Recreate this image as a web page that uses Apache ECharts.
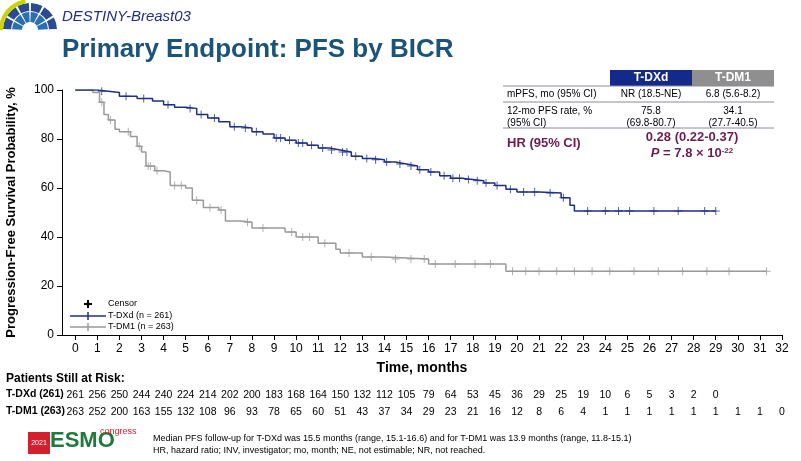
<!DOCTYPE html><html><head><meta charset="utf-8">
<script src="https://cdn.jsdelivr.net/npm/echarts@6/dist/echarts.min.js"></script>
<style>html,body{margin:0;background:#fff}#c{width:801px;height:461px}</style></head><body><div id="c"></div>
<script>
const xTicks=[0,1,2,3,4,5,6,7,8,9,10,11,12,13,14,15,16,17,18,19,20,21,22,23,24,25,26,27,28,29,30,31,32];
const dxdSteps=[[0,100],[1.0,99.5],[1.5,99],[2,97.5],[2.8,96.5],[3.5,95.5],[4,94],[4.5,93],[5,92.5],[5.5,90],[6,88.6],[6.5,87],[7,85],[7.5,84.5],[8,83],[8.5,82],[9,80.4],[9.5,79.5],[10,78.4],[10.5,77.5],[11,76.3],[11.5,75.5],[12,74.7],[12.5,73],[13,72],[13.5,71.5],[14,70.6],[14.5,69.8],[15,69],[15.5,67.5],[16,66.5],[16.5,65],[17,64],[17.5,63.5],[18,63],[18.5,62],[19,61],[19.5,59.5],[20,58.4],[21,58],[22,56],[22.4,53],[22.6,50.6],[29,50.6]];
const dm1Steps=[[0,100],[0.8,99],[1.1,95],[1.3,90],[1.5,87.8],[1.8,84],[2,83],[2.5,81],[2.8,77],[3,74.7],[3.2,69],[3.6,67],[4,66.5],[4.3,61],[5,60],[5.3,55],[5.8,52],[6.5,51],[6.8,46.5],[7.5,46],[8,43.7],[9.5,42],[10,40],[11,37.5],[11.8,35],[12,33.5],[13,31.8],[14,31],[16,29],[19.5,26],[31.3,26]];
const dxdCensor=[1.2,2.3,3.1,4.2,5.2,5.7,6.3,7.2,7.7,8.2,9.1,9.3,9.7,10.1,10.3,10.7,11.2,11.6,12.1,12.3,12.7,13.2,13.6,14.1,14.7,15.2,15.6,16.1,16.7,17.1,17.4,17.8,18.2,18.6,19.1,19.7,20.3,20.8,21.5,22.1,23.2,24,24.6,25.1,26.2,27.3,28.5,29];
const dm1Censor=[1.2,1.6,2.4,2.9,3.3,3.4,3.7,4.5,4.8,5.5,6.1,6.6,7.8,8.5,9.8,10.3,10.6,11.3,12.4,13.4,14.5,15.2,15.8,16.3,17.2,18.1,18.8,19.8,20.4,21,21.8,22.6,23.4,24.2,25.3,26.4,27.5,28.6,29.6,31.3];
const riskDxd=[261,256,250,244,240,224,214,202,200,183,168,164,150,132,112,105,79,64,53,45,36,29,25,19,10,6,5,3,2,0];
const riskDm1=[263,252,200,163,155,132,108,96,93,78,65,60,51,43,37,34,29,23,21,16,12,8,6,4,1,1,1,1,1,1,1,1,0];
const NAVY='#1f2f86',GRAY='#9a9a9a';
function stepLine(s){const o=[];for(let i=0;i<s.length;i++){if(i>0)o.push([s[i][0],s[i-1][1]]);o.push(s[i]);}return o;}
function at(s,t){let v=s[0][1];for(const p of s){if(p[0]<=t)v=p[1];}return v;}
const plus='path://M-0.12,-1H0.12V-0.12H1V0.12H0.12V1H-0.12V0.12H-1V-0.12H-0.12Z';
const ch=echarts.init(document.getElementById('c'));
const opt={animation:false,
grid:{left:62,right:19,top:90,bottom:126,outerBoundsMode:'none',containLabel:false},
xAxis:{type:'value',min:-0.6,max:32,axisLine:{onZero:false,lineStyle:{color:'#000'}},axisTick:{customValues:xTicks,lineStyle:{color:'#000'}},splitLine:{show:false},
 axisLabel:{customValues:xTicks,color:'#000',fontSize:12,fontFamily:'Liberation Sans'},name:'Time, months',nameLocation:'middle',nameGap:26,nameTextStyle:{fontWeight:'bold',fontSize:14,color:'#000',fontFamily:'Liberation Sans'}},
yAxis:{type:'value',min:0,max:100,interval:20,axisLine:{show:true,onZero:false,lineStyle:{color:'#000'}},axisTick:{show:true},splitLine:{show:false},
 axisLabel:{color:'#000',fontSize:12,fontFamily:'Liberation Sans'},name:'Progression-Free Survival Probability, %',nameLocation:'middle',nameGap:44,nameTextStyle:{fontWeight:'bold',fontSize:13,color:'#000',fontFamily:'Liberation Sans'}},
series:[
{type:'line',data:stepLine(dm1Steps),showSymbol:false,lineStyle:{color:GRAY,width:1.5}},
{type:'line',data:stepLine(dxdSteps),showSymbol:false,lineStyle:{color:NAVY,width:1.5}},
{type:'scatter',data:dm1Censor.map(t=>[t,at(dm1Steps,t)]),symbol:plus,symbolSize:8,itemStyle:{color:GRAY}},
{type:'scatter',data:dxdCensor.map(t=>[t,at(dxdSteps,t)]),symbol:plus,symbolSize:8,itemStyle:{color:NAVY}}
]};
ch.setOption(opt);
const F='Liberation Sans';
const g=[];
function T(x,y,text,font,fill,extra){const st=Object.assign({text:text,font:font,fill:fill||'#000'},extra||{});g.push({type:'text',x:x,y:y,style:st});}
// header
T(62,9,'DESTINY-Breast03','italic 15px '+F,'#1f2f86');
T(62,37,'Primary Endpoint: PFS by BICR','bold 26px '+F,'#1b5478');
for(let k=0;k<6;k++){const a0=Math.PI+k*Math.PI/6+0.04,a1=Math.PI+(k+1)*Math.PI/6-0.04;
 g.push({type:'sector',shape:{cx:30,cy:30,r0:8,r:18,startAngle:a0,endAngle:a1},style:{fill:'#2a6fb0'}});
 g.push({type:'sector',shape:{cx:30,cy:30,r0:19,r:27,startAngle:a0,endAngle:a1},style:{fill:'#2a4b8f'}});}
g.push({type:'sector',shape:{cx:30,cy:30,r0:27,r:31,startAngle:Math.PI,endAngle:1.45*Math.PI},style:{fill:'#c9d400'}});
// table
g.push({type:'rect',shape:{x:610,y:70,width:82,height:16},style:{fill:'#132a8a'}});
g.push({type:'rect',shape:{x:692,y:70,width:82,height:16},style:{fill:'#8f8f8f'}});
T(651,78,'T-DXd','bold 12px '+F,'#fff',{align:'center',verticalAlign:'middle'});
T(733,78,'T-DM1','bold 12px '+F,'#fff',{align:'center',verticalAlign:'middle'});
[86,102,128].forEach(y=>g.push({type:'line',shape:{x1:503,y1:y,x2:774,y2:y},style:{stroke:'#8a8a9a',lineWidth:1}}));
const t10='10px '+F;
T(507,89,'mPFS, mo (95% CI)',t10);
T(651,94,'NR (18.5-NE)',t10,'#000',{align:'center',verticalAlign:'middle'});
T(733,94,'6.8 (5.6-8.2)',t10,'#000',{align:'center',verticalAlign:'middle'});
T(507,105,'12-mo PFS rate, %\n(95% CI)',t10,'#000',{lineHeight:12});
T(651,105,'75.8\n(69.8-80.7)',t10,'#000',{align:'center',lineHeight:12});
T(733,105,'34.1\n(27.7-40.5)',t10,'#000',{align:'center',lineHeight:12});
T(507,137,'HR (95% CI)','bold 13px '+F,'#6b1d52');
T(692,131,'0.28 (0.22-0.37)','bold 13px '+F,'#6b1d52',{align:'center'});
g.push({type:'text',x:692,y:147,style:{rich:{a:{font:'bold italic 13px '+F,fill:'#6b1d52'},b:{font:'bold 13px '+F,fill:'#6b1d52'},s:{font:'bold 8px '+F,fill:'#6b1d52',verticalAlign:'top'}},text:'{a|P}{b| = 7.8 × 10}{s|-22}',align:'center'}});
// legend
g.push({type:'polygon',shape:{points:[[-1,-4],[1,-4],[1,-1],[4,-1],[4,1],[1,1],[1,4],[-1,4],[-1,1],[-4,1],[-4,-1],[-1,-1]]},x:88,y:304,style:{fill:'#000'}});
T(108,299,'Censor','9px '+F);
g.push({type:'line',shape:{x1:70,y1:316,x2:106,y2:316},style:{stroke:NAVY,lineWidth:1.5}});
g.push({type:'line',shape:{x1:88,y1:312,x2:88,y2:320},style:{stroke:NAVY,lineWidth:1.5}});
T(108,311,'T-DXd (n = 261)','9px '+F);
g.push({type:'line',shape:{x1:70,y1:327,x2:106,y2:327},style:{stroke:GRAY,lineWidth:1.5}});
g.push({type:'line',shape:{x1:88,y1:323,x2:88,y2:331},style:{stroke:GRAY,lineWidth:1.5}});
T(108,322,'T-DM1 (n = 263)','9px '+F);
// risk table
T(6,373,'Patients Still at Risk:','bold 12px '+F);
T(6,389,'T-DXd (261)','bold 10.5px '+F);
T(6,406,'T-DM1 (263)','bold 10.5px '+F);
riskDxd.forEach((v,i)=>{const x=ch.convertToPixel({xAxisIndex:0},xTicks[i]);T(x,395,String(v),'10.5px '+F,'#000',{align:'center',verticalAlign:'middle'});});
riskDm1.forEach((v,i)=>{const x=ch.convertToPixel({xAxisIndex:0},xTicks[i]);T(x,412,String(v),'10.5px '+F,'#000',{align:'center',verticalAlign:'middle'});});
// footer
g.push({type:'rect',shape:{x:28,y:432,width:22,height:22},style:{fill:'#d3202e'}});
T(39,443,'2021','7px '+F,'#fff',{align:'center',verticalAlign:'middle'});
T(50,430,'ESMO','bold 22px '+F,'#1e7b3c');
T(100,427,'congress','9px '+F,'#d3202e');
T(153,433,'Median PFS follow-up for T-DXd was 15.5 months (range, 15.1-16.6) and for T-DM1 was 13.9 months (range, 11.8-15.1)\nHR, hazard ratio; INV, investigator; mo, month; NE, not estimable; NR, not reached.','9px '+F,'#000',{lineHeight:12});
ch.setOption({graphic:g});
</script></body></html>
